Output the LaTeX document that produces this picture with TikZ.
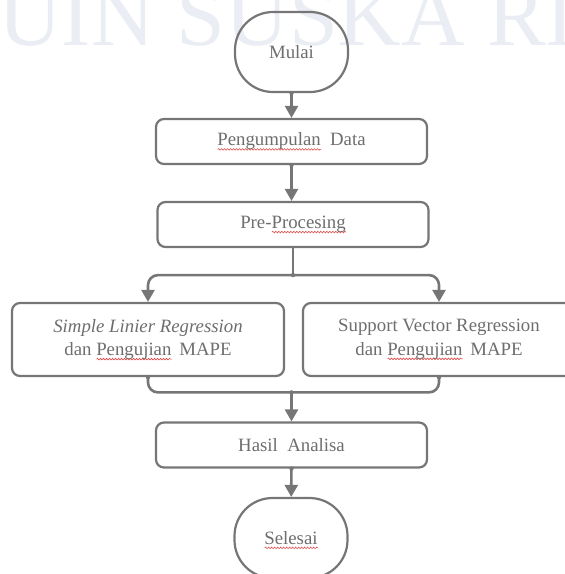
\documentclass[tikz,border=0pt]{standalone}
\usepackage{fontspec}
\setmainfont{Liberation Serif}
\usetikzlibrary{arrows.meta,decorations.pathmorphing}
\definecolor{linec}{HTML}{767676}
\definecolor{textc}{HTML}{6E6E6E}
\definecolor{wm}{HTML}{EAEDF4}
\definecolor{sq}{HTML}{E04848}
\newcommand\sqw[1]{\setbox0\hbox{#1}\rlap{\raisebox{-4.5pt}[0pt][0pt]{\tikz[x=1pt,y=1pt]\draw[sq, line width=0.6pt, sharp corners, decorate, decoration={snake,amplitude=0.8pt,segment length=3pt}] (0,0) -- (\the\wd0,0);}}\box0}
\begin{document}
\begin{tikzpicture}[x=1pt,y=-1pt,
  box/.style={draw=linec, line width=2.2pt, rounded corners=8pt, fill=white,
    minimum width=271pt, minimum height=45pt, inner sep=0pt, text=textc,
    font=\fontsize{18.8}{23.5}\selectfont, align=center},
  term/.style={box, fill=none, minimum width=113pt, minimum height=80pt, rounded corners=38pt},
  wide/.style={box, minimum width=272pt, minimum height=73pt},
  conn/.style={draw=linec, line width=2.6pt},
  arr/.style={conn, -{Triangle[width=13pt,length=12pt]}},
  dot/.style={fill=linec}]
\useasboundingbox (0,0) rectangle (565,574);
\node[anchor=base west, inner sep=0pt, text=wm, font=\fontsize{88}{88}\selectfont] (wmark) at (-2,45) {UIN SUSKA RIAU};

\node[term] (mulai) at (291.5,52) {\raisebox{-3pt}{Mulai}};
\node[box] (data) at (291.5,141.5) {\sqw{Pengumpulan}\ \ Data};
\node[box] (pre) at (293,224.5) {Pre-\sqw{Procesing}};
\node[wide] (slr) at (148,339.5) {\textit{Simple Linier Regression}\\dan \sqw{Pengujian}\ \,MAPE};
\node[wide] (svr) at (439,339.5) {Support Vector Regression\\dan \sqw{Pengujian}\ \,MAPE};
\node[box] (hasil) at (291.5,445) {Hasil\ \ Analisa};
\node[term] (selesai) at (291,538) {\raisebox{-3pt}{\sqw{Selesai}}};

\draw[arr] (mulai) -- (data);
\draw[arr] (data) -- (data.south |- pre.north);
\path (pre.south) ++(0,27) coordinate (split);
\draw[conn] (pre.south) -- (split);
\draw[arr, rounded corners=10pt] (split) -| (slr.north);
\draw[arr, rounded corners=10pt] (split) -| (svr.north);
\path (hasil.north) ++(0,-29) coordinate (merge);
\draw[conn, rounded corners=10pt] (slr.south) |- (merge) -| (svr.south);
\draw[arr] (merge) -- (hasil.north);
\draw[arr] (hasil) -- (selesai);

\foreach \p in {mulai.south, data.south, split, slr.south, svr.south, merge, hasil.south}
  \fill[dot] (\p) circle (2.2pt);
\end{tikzpicture}
\end{document}
